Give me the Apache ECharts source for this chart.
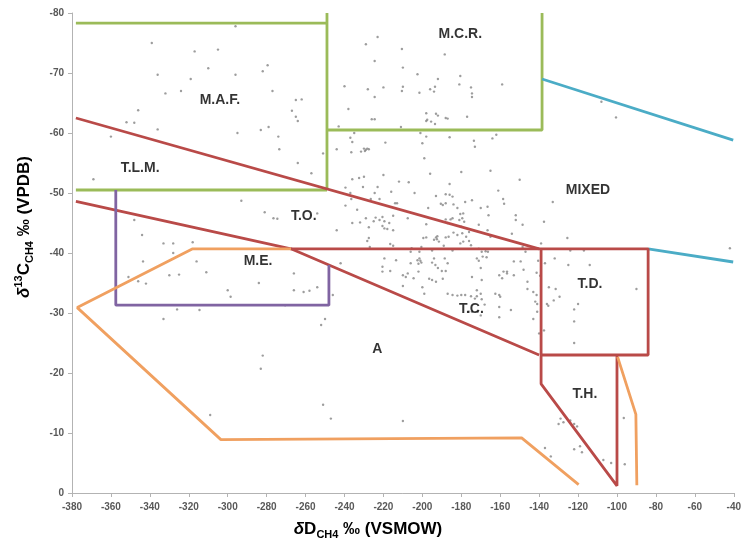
<!DOCTYPE html>
<html><head><meta charset="utf-8">
<script src="https://cdn.jsdelivr.net/npm/echarts@6/dist/echarts.min.js"></script>
<style>html,body{margin:0;padding:0;background:#fff}#c{width:744px;height:544px}</style>
</head><body><div id="c"></div>
<script>
// δD (x) and δ13C (y) of the samples
const samples = [
[-296,-77.8],[-339,-75],[-317,-73.6],[-305,-73.9],[-336,-69.7],[-310,-70.8],[-319,-69],[-296,-69.7],[-282,-70.3],[-279.5,-71.3],
[-332,-66.6],[-324,-67],[-277,-67],[-265,-65.5],[-262,-65.6],[-346,-63.8],[-352,-61.8],[-348,-61.7],[-267,-63.7],[-265,-62.7],
[-264,-62],[-336,-60.6],[-279,-61],[-283,-60.5],[-295,-60],[-360,-59.4],[-274,-59.4],[-273.5,-57.3],[-251,-56.6],[-264,-55],
[-257,-53.3],[-369,-52.3],[-293,-48.7],[-281,-46.8],[-276.5,-45.8],[-274.5,-45.7],[-348,-45.5],[-344,-43],[-333,-41.6],[-328,-41.6],
[-318,-41.8],[-254,-46.6],[-244,-43.8],[-343.5,-38.6],[-328,-40],[-316,-38.6],
[-351,-36],[-346,-35.3],[-342,-34.9],[-330,-36.3],[-325,-36.4],[-311,-36.8],[-300,-33.8],[-298.5,-32.7],[-284,-35],[-266,-36.6],
[-266,-33.8],[-261,-33.5],[-258,-33.7],[-254,-34.3],[-246,-33],[-270.5,-31.3],[-326,-30.6],[-314.5,-30.5],[-333,-29],[-252,-28],
[-250,-29],[-282,-22.9],[-283,-20.7],[-309,-13],[-251,-14.7],[-247,-12.4],
[-210,-36.3],[-207.5,-36.6],[-204.5,-35.8],[-200,-34.3],[-196.5,-35.7],[-195,-35.5],[-193,-35.2],[-189.5,-35.7],[-199,-33.2],[-210,-34.5],
[-187,-33.2],[-184.5,-33],[-180,-33],[-175,-32.8],[-172,-33.8],[-170,-33.2],[-172,-32.8],
[-162.5,-33.2],[-160.5,-33],[-160.5,-36.3],[-159,-35.8],[-156.5,-36.6],[-153,-36.3],[-146,-35.2],[-146,-34],[-143,-33.5],[-141,-31.5],
[-143,-29],[-140,-26.6],[-137.5,-27.1],[-136,-31.5],[-135,-34.3],[-131.5,-34],[-129.5,-32.7],[-132.5,-32.1],[-160.5,-31],[-160.5,-29.3],
[-154.5,-30.5],[-170,-29.6],[-176,-30.2],[-168,-31.4],[-120,-31.5],[-122,-30.6],[-122,-28.6],[-122,-25],[-90,-34],[-210,-12],
[-129,-12.4],[-130,-11.5],[-127.5,-11.8],[-124,-12.1],[-122,-11.5],[-120.5,-11.1],[-137,-7.5],[-134,-6.1],[-122,-7.3],[-119,-7.8],
[-118,-6.8],[-107,-5.5],[-103,-5],[-96.5,-12.5],[-96,-4.8],
[-174.5,-36],[-169.5,-35.5],[-182,-32.9],[-178,-33],[-173,-32.4],[-169.5,-32.3],[-160,-32.7],[-174.5,-30.2],[-171.5,-30.2],[-141.3,-33],
[-142,-31.9],[-141,-30.2],[-135.3,-31.2],
[-223,-76],[-210.5,-74],[-188.5,-73.1],[-224.5,-72],[-210,-70.9],[-202.5,-69.8],[-192,-69],[-180.5,-69.5],[-220,-67.6],[-210,-67.7],
[-210.5,-67],[-201.5,-66.7],[-196,-67.3],[-193.5,-67.7],[-194,-66.9],[-181,-68.1],[-175,-67.6],[-174.5,-66.6],[-174.5,-66],[-159,-68.1],
[-224.5,-66],[-224.5,-62.3],[-226,-62.3],[-198,-63.3],[-193,-63.2],[-197.5,-62.2],[-195.5,-61.9],[-193.5,-61.5],[-188,-62.5],[-187,-62.4],
[-192,-62.9],[-198,-62],[-177,-62.7],[-211,-61],[-201,-60],[-198,-59.4],[-200,-58.3],[-186,-59.3],[-173.5,-58.7],[-173,-57.7],
[-162,-59.7],[-164,-59.1],[-219,-58.4],[-199,-55.8],[-108,-65.2],[-100.5,-62.6],[-220,-53],[-196,-53.2],[-180,-53.5],[-165,-53.7],
[-150,-52.2],[-212,-51.9],[-207,-51.8],[-186,-51.5],[-223,-51],[-216,-50.2],[-204,-50],[-193,-49.5],[-188,-49.8],[-186,-49.7],
[-184.5,-49.4],[-190.5,-48.2],[-189.5,-48],[-184,-48.1],[-178,-48.5],[-174.5,-48.8],[-170,-47.5],[-166.5,-47.7],[-166,-46.3],[-158.5,-49],
[-158,-48.2],[-152,-46.3],[-152,-45.5],[-133,-48.5],[-222,-45.5],[-219.5,-45.3],[-219.5,-44.1],[-215,-43.8],[-220.5,-44.5],[-207.5,-45.8],
[-188,-45.6],[-184.5,-45.8],[-187,-45],[-181,-45.5],[-180.5,-46.5],[-180,-44.4],[-199.5,-42.5],[-198,-42.6],[-193,-42.6],[-191.5,-41.9],
[-188,-42.6],[-186.5,-42.7],[-182,-43],[-180.5,-41.6],[-179,-41.9],[-176,-42],[-175,-41.3],[-171,-44.7],[-166.5,-43.8],[-137.5,-45.2],
[-125.5,-42.5],[-139,-41.6],[-42,-40.8],[-124,-40.4],[-117,-40.4],[-206,-40.2],[-195,-40.4],[-184.5,-40.4],[-213.5,-38.8],[-206,-38.3],
[-201.5,-39.1],[-194,-39.1],[-187,-38.3],[-172,-39.1],[-169,-39.4],[-167,-39.3],[-149.5,-38.6],[-125,-38],[-114,-38],[-137,-38.3],
[-220.5,-37.7],[-192,-37.5],
[-229,-74.8],[-240,-67.8],[-228,-67.3],[-238,-64],[-243,-61.1],[-235,-60],[-237,-59.2],[-236,-58.5],[-244,-57.3],[-236.5,-56.8],
[-231.5,-56.9],[-230,-57.4],[-229,-57.2],[-228.3,-57.4],[-227.5,-57.3],[-229.5,-57],[-236,-52.3],[-232.5,-52.5],[-230,-52.7],[-239.5,-50.9],
[-230.5,-51],[-224.5,-50],[-161,-50.4],
[-237,-50],[-222,-49],[-226.5,-49],[-239.5,-47.9],[-236.5,-49],[-214,-48.3],[-213,-48.3],[-233.5,-47.2],[-197,-47.5],[-229,-45.8],
[-225,-45.3],[-224,-45.9],[-220.5,-46],[-215,-46.2],[-236,-45],[-232,-45.1],[-217,-45],[-227.5,-44.3],[-218,-44],[-198,-44.8],
[-227.5,-42.5],[-228.3,-42],[-194,-42.2],[-192.3,-42.8],[-192.5,-42.3],[-216.5,-41.5],[-215,-41.2],[-227,-41],[-205.5,-40.8],[-200.5,-41],
[-201.5,-40.2],[-202.5,-38.8],[-201,-38.7],[-200.5,-38.4],[-202,-38.2],[-219.5,-39.1],[-220.5,-36.9],[-242,-38.3],[-195,-38.4],[-193.3,-38],
[-216.5,-37],[-208.5,-36],[-202,-36.9],[-190,-37],
[-188,-48.3],[-182,-47.5],[-179,-46.6],[-179.5,-45.8],[-178.5,-45.2],[-148.5,-44.7],[-176,-43.5],[-179.5,-43.3],[-177.5,-42.7],[-184,-43.4],
[-165,-42.7],[-154,-43.2],[-189,-41.2],[-171,-40.7],[-169.5,-40.2],[-167.5,-40.3],[-166.3,-40.2],[-148.5,-41],[-147,-40.2],[-188.5,-39.1],
[-171,-38.7],[-153,-38.6],[-140.5,-38.7],[-132,-39.1],[-170,-37.5],[-148,-37.2],[-188,-37],[-158.3,-36.9],[-156.5,-36.9],[-141.3,-36.7],
[-139.5,-36.2],[-185.5,-45.6]
];

// field boundaries (δD, δ13C)
const mafTop      = [[-378,-78.3],[-249,-78.3]];
const mafRight    = [[-249,-80],[-249,-50.5]];
const tlmTop      = [[-378,-50.5],[-249,-50.5]];
const mcrBox      = [[-249,-60.5],[-138.5,-60.5],[-138.5,-80]];
const mixedUpper  = [[-138.5,-69],[-40.3,-58.8]];
const mixedLower  = [[-84,-40.7],[-40.3,-38.5]];
const thermoUpper = [[-378,-62.5],[-140,-40.7]];
const thermoLower = [[-378,-48.6],[-267.5,-40.7],[-140,-23]];
const tdBox       = [[-267.5,-40.7],[-84,-40.7],[-84,-23],[-139,-23]];
const thBox       = [[-139,-40.7],[-139,-18.2],[-100,-1.2],[-100,-23]];
const meBox       = [[-357.5,-50.5],[-357.5,-31.3],[-248,-31.3],[-248,-38]];
const aLeft       = [[-267.5,-40.7],[-318,-40.7],[-377.3,-30.9],[-303.5,-8.9],[-149,-9.2],[-119.7,-1.4]];
const aRight      = [[-99.7,-22.7],[-90.3,-13.1],[-89.8,-1.3]];

const regionNames  = ['M.A.F.','M.C.R.','T.L.M.','MIXED','T.O.','M.E.','T.D.','T.C.','A','T.H.'];
const regionCoords = [[-304,-65.4],[-180.5,-76.5],[-345,-54.2],[-114.9,-50.4],[-260.9,-46.2],[-284.4,-38.7],[-113.9,-34.75],[-174.8,-30.7],[-223.2,-24],[-116.5,-16.55]];

const GREEN='#9bbb59', BLUE='#4bacc6', RED='#b94a48', PURPLE='#8064a2', ORANGE='#f0a060';
const FONT='Liberation Sans, Arial, sans-serif';

function poly(data,color){
  return {type:'line',data:data,symbol:'none',showSymbol:false,silent:true,z:3,
    lineStyle:{color:color,width:2.8},animation:false};
}

const axisCommon = {
  axisLine:{show:true,onZero:false,lineStyle:{color:'#b3b3b3',width:1}},
  axisTick:{show:true,length:4,lineStyle:{color:'#b3b3b3'}},
  splitLine:{show:false},
  axisLabel:{color:'#595959',fontSize:10,fontWeight:'bold',fontFamily:FONT,margin:8,showMinLabel:true,showMaxLabel:true}
};

const chart = echarts.init(document.getElementById('c'),null,{renderer:'canvas'});
chart.setOption({
  animation:false,
  backgroundColor:'#fff',
  grid:{left:72,right:8,top:13,bottom:51},
  xAxis:Object.assign({type:'value',min:-380,max:-40,interval:20},axisCommon,
    {axisLabel:Object.assign({},axisCommon.axisLabel,{margin:9})}),
  yAxis:Object.assign({type:'value',min:-80,max:0,interval:10,inverse:true},axisCommon),
  series:[
    {type:'scatter',data:samples,symbol:'circle',symbolSize:2.4,itemStyle:{color:'#858585'},z:2,silent:true},
    poly(mafTop,GREEN),poly(mafRight,GREEN),poly(tlmTop,GREEN),poly(mcrBox,GREEN),
    poly(mixedUpper,BLUE),poly(mixedLower,BLUE),
    poly(thermoUpper,RED),poly(thermoLower,RED),poly(tdBox,RED),poly(thBox,RED),
    poly(meBox,PURPLE),
    poly(aLeft,ORANGE),poly(aRight,ORANGE),
    {type:'scatter',symbolSize:0,z:5,silent:true,
      data:regionNames.map((n,i)=>({name:n,value:regionCoords[i]})),
      label:{show:true,position:'inside',formatter:'{b}',fontSize:14,fontWeight:'bold',color:'#000',fontFamily:FONT}}
  ],
  graphic:[
    {type:'text',x:368,y:529,z:10,
      style:{text:'{i|δ}{m|D}{s|CH4}{m| ‰ (VSMOW)}',align:'center',verticalAlign:'middle',fill:'#000',
        rich:{
          i:{fontSize:17,fontWeight:'bold',fontStyle:'italic',fontFamily:FONT,fill:'#000',lineHeight:22,verticalAlign:'middle'},
          m:{fontSize:17,fontWeight:'bold',fontFamily:FONT,fill:'#000',lineHeight:22,verticalAlign:'middle'},
          s:{fontSize:11,fontWeight:'bold',fontFamily:FONT,fill:'#000',lineHeight:11,verticalAlign:'bottom'}
        }}},
    {type:'text',x:24,y:227,rotation:Math.PI/2,z:10,
      style:{text:'{i|δ}{p|13}{m|C}{s|CH4}{m| ‰ (VPDB)}',align:'center',verticalAlign:'middle',fill:'#000',
        rich:{
          i:{fontSize:17,fontWeight:'bold',fontStyle:'italic',fontFamily:FONT,fill:'#000',lineHeight:22,verticalAlign:'middle'},
          m:{fontSize:17,fontWeight:'bold',fontFamily:FONT,fill:'#000',lineHeight:22,verticalAlign:'middle'},
          p:{fontSize:11,fontWeight:'bold',fontFamily:FONT,fill:'#000',lineHeight:11,verticalAlign:'top'},
          s:{fontSize:11,fontWeight:'bold',fontFamily:FONT,fill:'#000',lineHeight:11,verticalAlign:'bottom'}
        }}}
  ]
});
</script>
</body></html>
